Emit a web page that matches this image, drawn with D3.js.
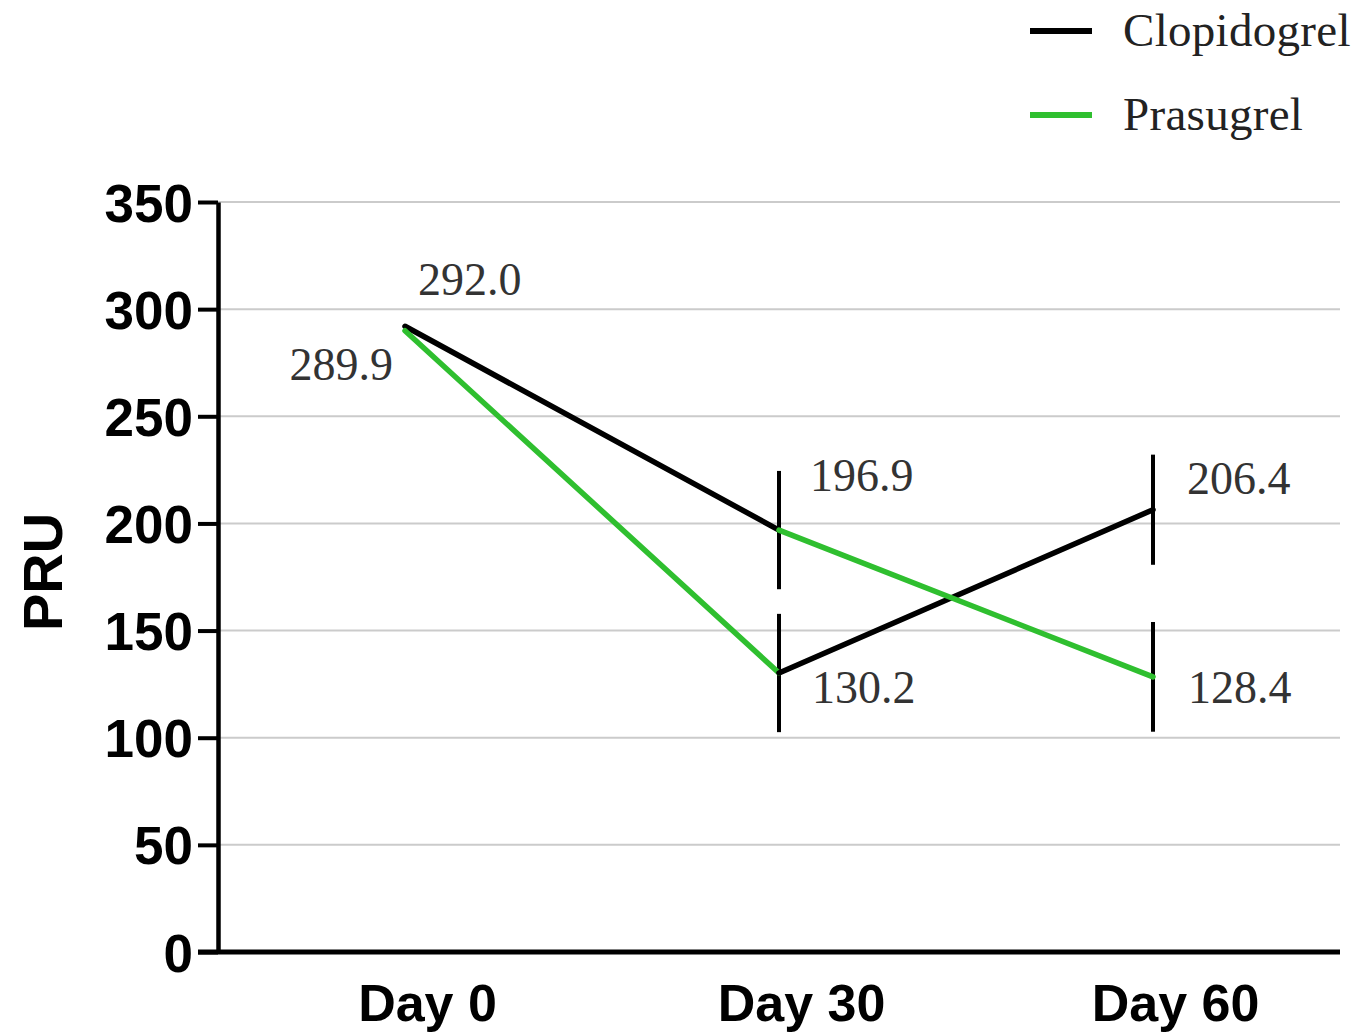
<!DOCTYPE html>
<html>
<head>
<meta charset="utf-8">
<script src="https://cdn.jsdelivr.net/npm/d3@7"></script>
<style>
  html, body { margin: 0; padding: 0; background: #fff; }
  svg { display: block; }
</style>
</head>
<body>
<svg id="chart" width="1360" height="1034"></svg>
<script>
// Mean PRU per visit
const days = ["Day 0", "Day 30", "Day 60"];
const clopidogrel = [292.0, 196.9, 206.4];
const prasugrel = [289.9, 130.2, 128.4];
// Error half-widths (no bar at baseline)
const clopidogrelErr = [null, 27.6, 25.7];
const prasugrelErr = [null, 27.6, 25.6];
const yTicks = [0, 50, 100, 150, 200, 250, 300, 350];

const seriesValues = { clop: clopidogrel, pras: prasugrel };
const seriesErr = { clop: clopidogrelErr, pras: prasugrelErr };

// Plotted traces: each segment joins [dayIndex, series] to [dayIndex, series]
const traces = [
  { name: "Clopidogrel", color: "#000000",
    segments: [[[0, "clop"], [1, "clop"]], [[1, "pras"], [2, "clop"]]] },
  { name: "Prasugrel", color: "#2fbf2f",
    segments: [[[0, "pras"], [1, "pras"]], [[1, "clop"], [2, "pras"]]] }
];

// Value label placement relative to each point
const labelLayout = [
  { key: "clop", day: 0, dx: 13, dy: -31, anchor: "start" },
  { key: "pras", day: 0, dx: -12, dy: 49, anchor: "end" },
  { key: "clop", day: 1, dx: 31, dy: -39, anchor: "start" },
  { key: "pras", day: 1, dx: 33, dy: 30, anchor: "start" },
  { key: "clop", day: 2, dx: 34, dy: -16, anchor: "start" },
  { key: "pras", day: 2, dx: 35, dy: 26, anchor: "start" }
];

const svg = d3.select("#chart");
const plotLeft = 218, plotRight = 1340, plotTop = 202, plotBottom = 952;

const x = d3.scalePoint().domain(days).range([plotLeft, plotRight]).padding(0.5);
const y = d3.scaleLinear().domain([0, 350]).range([plotBottom, plotTop]);

// Gridlines
svg.append("g")
  .selectAll("line")
  .data(yTicks.filter(d => d > 0))
  .join("line")
  .attr("x1", plotLeft).attr("x2", plotRight)
  .attr("y1", d => y(d)).attr("y2", d => y(d))
  .attr("stroke", "#cbcbcb")
  .attr("stroke-width", 2);

// Y axis
const yAxis = svg.append("g")
  .attr("transform", `translate(${plotLeft},0)`)
  .call(d3.axisLeft(y).tickValues(yTicks).tickSize(20).tickPadding(5).tickSizeOuter(0));
yAxis.select(".domain").attr("stroke", "#000").attr("stroke-width", 4.5);
yAxis.selectAll(".tick line").attr("stroke", "#000").attr("stroke-width", 4);
yAxis.selectAll(".tick text")
  .attr("font-family", "'Liberation Sans', Arial, sans-serif")
  .attr("font-weight", "bold")
  .attr("font-size", 53)
  .attr("fill", "#000")
  .attr("dy", "0.36em");

// X axis
const xAxis = svg.append("g")
  .attr("transform", `translate(0,${plotBottom})`)
  .call(d3.axisBottom(x).tickSize(0).tickPadding(32).tickSizeOuter(0));
xAxis.select(".domain")
  .attr("d", `M${plotLeft - 20},0H${plotRight}`)
  .attr("stroke", "#000").attr("stroke-width", 5);
xAxis.selectAll(".tick text")
  .attr("font-family", "'Liberation Sans', Arial, sans-serif")
  .attr("font-weight", "bold")
  .attr("font-size", 52)
  .attr("fill", "#000")
  .attr("dx", 22);

// Y axis title
svg.append("text")
  .attr("transform", `translate(62,${(plotTop + plotBottom) / 2 - 5}) rotate(-90)`)
  .attr("text-anchor", "middle")
  .attr("font-family", "'Liberation Sans', Arial, sans-serif")
  .attr("font-weight", "bold")
  .attr("font-size", 56)
  .attr("fill", "#000")
  .text("PRU");

// Error bars (single vertical strokes)
const errData = [];
["clop", "pras"].forEach(k => {
  seriesValues[k].forEach((v, i) => {
    const e = seriesErr[k][i];
    if (e != null) errData.push({ day: days[i], lo: v - e, hi: v + e });
  });
});
svg.append("g")
  .selectAll("line")
  .data(errData)
  .join("line")
  .attr("x1", d => x(d.day)).attr("x2", d => x(d.day))
  .attr("y1", d => y(d.hi)).attr("y2", d => y(d.lo))
  .attr("stroke", "#000")
  .attr("stroke-width", 4);

// Lines
const line = d3.line()
  .x(p => x(days[p[0]]))
  .y(p => y(seriesValues[p[1]][p[0]]));

const segData = [];
traces.forEach(t => t.segments.forEach((s, si) => segData.push({ color: t.color, pts: s, order: si })));
segData.sort((a, b) => a.order - b.order);

svg.append("g")
  .selectAll("path")
  .data(segData)
  .join("path")
  .attr("d", d => line(d.pts))
  .attr("fill", "none")
  .attr("stroke", d => d.color)
  .attr("stroke-width", 5.5)
  .attr("stroke-linecap", "round")
  .attr("stroke-linejoin", "round");

// Value labels
const fmt = d3.format(".1f");
svg.append("g")
  .selectAll("text")
  .data(labelLayout)
  .join("text")
  .attr("x", d => x(days[d.day]) + d.dx)
  .attr("y", d => y(seriesValues[d.key][d.day]) + d.dy)
  .attr("text-anchor", d => d.anchor)
  .attr("font-family", "'Liberation Serif', 'Times New Roman', serif")
  .attr("font-size", 46)
  .attr("fill", "#333")
  .text(d => fmt(seriesValues[d.key][d.day]));

// Legend
const legend = svg.append("g");
const legendRows = legend.selectAll("g")
  .data(traces)
  .join("g")
  .attr("transform", (d, i) => `translate(0,${31 + i * 84})`);
legendRows.append("line")
  .attr("x1", 1030).attr("x2", 1092)
  .attr("y1", 0).attr("y2", 0)
  .attr("stroke", d => d.color)
  .attr("stroke-width", 6);
legendRows.append("text")
  .attr("x", 1123).attr("y", 15)
  .attr("font-family", "'Liberation Serif', 'Times New Roman', serif")
  .attr("font-size", 47)
  .attr("letter-spacing", 0.3)
  .attr("fill", "#222")
  .text(d => d.name);
</script>
</body>
</html>
